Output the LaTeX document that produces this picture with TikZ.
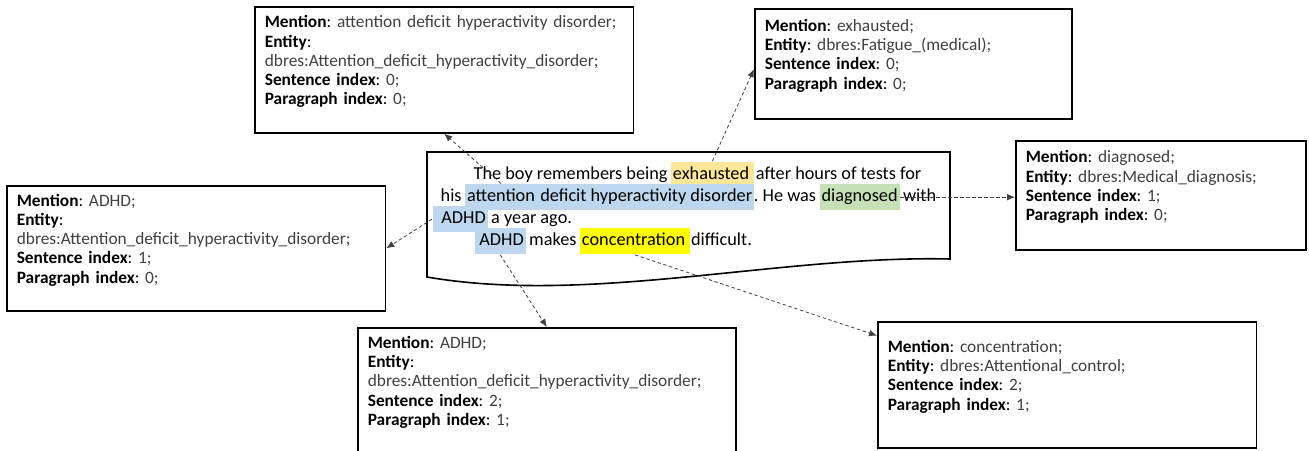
\documentclass[tikz,border=0pt]{standalone}
\usepackage{fontspec}
\setmainfont{Carlito}
\usetikzlibrary{arrows.meta,positioning}
\definecolor{hlorange}{RGB}{255,230,153}
\definecolor{hlblue}{RGB}{189,215,238}
\definecolor{hlgreen}{RGB}{197,224,180}
\definecolor{hlyellow}{RGB}{255,255,0}
\definecolor{valgray}{RGB}{64,64,64}
\newcommand{\fld}[2]{\textbf{#1}: \textcolor{valgray}{#2}}
\frenchspacing

\begin{document}
\begin{tikzpicture}[x=0.75pt,y=-0.75pt,line width=1pt,>={Latex[length=6pt,width=5pt]},
  seg/.style={inner xsep=0pt,inner ysep=3.5pt,text height=9.5pt,text depth=3pt,font=\fontsize{13.7}{16}\selectfont},
  hl/.style={seg,fill=#1,inner xsep=1.5pt},
  info/.style={draw,line width=1.2pt,anchor=north west,align=left,inner xsep=7.5pt,font=\fontsize{13}{14.4}\selectfont},
  link/.style={->,dash pattern=on 2.5pt off 2pt,line width=0.6pt,black!75}]
\useasboundingbox (0,0) rectangle (1309,450);
\clip (0,0) rectangle (1309,450);

% sample document
\draw[line width=1.2pt] (427,152) -- (950,152) -- (950,259) .. controls (780,255) and (590,305) .. (427,277) -- cycle;

\node[seg,anchor=base west] (w1) at (473,179) {The boy remembers being};
\node[hl=hlorange,right=1.6pt of w1] (exh) {exhausted\kern2pt};
\node[seg,right=0.6pt of exh] (w2) {after hours of tests for};

\node[seg,anchor=base west] (w3) at (440,201.5) {his};
\node[hl=hlblue,right=1.6pt of w3] (attn) {attention};
\node[hl=hlblue,right=-2pt of attn] (dis) {\kern2pt deficit hyperactivity disorder};
\node[seg,right=-1.2pt of dis] (w4) {. He was};
\node[hl=hlgreen,right=1.6pt of w4] (diag) {diagnosed};
\node[seg,right=1.6pt of diag] (w5) {with};

\node[hl=hlblue,anchor=base west] (adhdA) at (432,223.5) {\hspace*{5pt}ADHD};
\node[seg,right=1.6pt of adhdA] (w6) {a year ago.};

\node[hl=hlblue,anchor=base west] (adhdB) at (474,245.5) {\hspace*{2pt}ADHD};
\node[seg,right=1.6pt of adhdB] (w7) {makes};
\node[hl=hlyellow,right=1.6pt of w7] (conc) {concentration\kern2pt};
\node[seg,right=0pt of conc] (w8) {difficult.};

% entity boxes
\node[info,text width=269pt,minimum height=94.5pt] (boxA) at (254,6)
  {\fld{Mention}{attention deficit hyperactivity disorder;}\\ \textbf{Entity}:\\ \textcolor{valgray}{dbres:Attention\_deficit\_hyperactivity\_disorder;}\\ \fld{Sentence index}{0;}\\ \fld{Paragraph index}{0;}\\ \mbox{}};
\node[info,text width=223pt,minimum height=82.5pt] (boxB) at (754,8)
  {\fld{Mention}{exhausted;}\\ \fld{Entity}{dbres:Fatigue\_(medical);}\\ \fld{Sentence index}{0;}\\ \fld{Paragraph index}{0;}\\ \mbox{}};
\node[info,text width=269pt,minimum height=93.75pt] (boxC) at (6,185)
  {\fld{Mention}{ADHD;}\\ \textbf{Entity}:\\ \textcolor{valgray}{dbres:Attention\_deficit\_hyperactivity\_disorder;}\\ \fld{Sentence index}{1;}\\ \fld{Paragraph index}{0;}\\ \mbox{}};
\node[info,text width=268.5pt,minimum height=93.75pt] (boxD) at (357,327)
  {\fld{Mention}{ADHD;}\\ \textbf{Entity}:\\ \textcolor{valgray}{dbres:Attention\_deficit\_hyperactivity\_disorder;}\\ \fld{Sentence index}{2;}\\ \fld{Paragraph index}{1;}\\ \mbox{}};
\node[info,text width=269pt,minimum height=94.5pt] (boxE) at (877,321)
  {\fld{Mention}{concentration;}\\ \fld{Entity}{dbres:Attentional\_control;}\\ \fld{Sentence index}{2;}\\ \fld{Paragraph index}{1;}\\ \mbox{}};
\node[info,text width=202.5pt,minimum height=81.75pt] (boxF) at (1015,140)
  {\fld{Mention}{diagnosed;}\\ \fld{Entity}{dbres:Medical\_diagnosis;}\\ \fld{Sentence index}{1;}\\ \fld{Paragraph index}{0;}\\ \mbox{}};

% mention links
\draw[link] (attn.north) -- (boxA.south);
\draw[link] (exh.north) -- ([yshift=-4pt]boxB.west);
\draw[link] (diag.east) -- (diag.east -| boxF.west);
\draw[link] (adhdA.west) -- (boxC.east);
\draw[link] (adhdB.south) -- (boxD.north);
\draw[link] (conc.south) -- ([yshift=-11pt]boxE.north west);
\end{tikzpicture}
\end{document}
